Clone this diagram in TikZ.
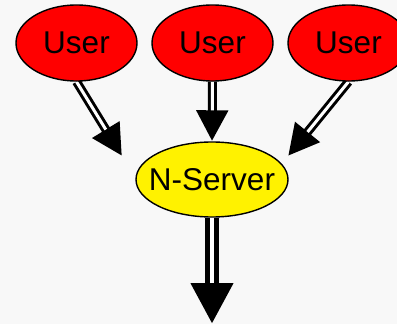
\documentclass[tikz,border=0pt]{standalone}
\usepackage{fontspec}
\setmainfont{Liberation Sans}
\usetikzlibrary{shapes.geometric,arrows.meta,backgrounds}
\definecolor{pagebg}{HTML}{F8F8F8}
\begin{document}
\begin{tikzpicture}[x=1pt,y=-1pt,
  user/.style={ellipse, draw=black, line width=1.4pt, fill=red,
    minimum width=121pt, minimum height=76pt, inner sep=0pt,
    font=\fontsize{31.5}{36}\selectfont},
  server/.style={user, fill=yellow, minimum width=152pt, minimum height=75pt,
    inner xsep=-12pt},
  shaft/.style={line width=9pt, -{Triangle[length=31pt,width=30pt]}},
  gap/.style={draw=white, line width=3pt, shorten >=31pt},
  bigshaft/.style={line width=14pt, -{Triangle[length=41pt,width=40pt]}},
  biggap/.style={draw=white, line width=4.5pt, shorten >=41pt}]
\useasboundingbox (0,0) rectangle (397,324);

% nodes
\node[user] (u1) at (76.5,43) {User};
\node[user] (u2) at (212.5,43) {User};
\node[user] (u3) at (348.5,43) {User};
\node[server] (srv) at (212,179.5) {N-Server};

\coordinate (t1) at (122,156);
\coordinate (t3) at (288,156);
\coordinate (out) at (212,324);

\begin{scope}[on background layer]
  \fill[pagebg] (0,0) rectangle (397,324);
  % double-lined connectors: black body with a white core
  \draw[shaft] (u1.south) -- (t1);
  \draw[gap] (u1.south) -- (t1);
  \draw[shaft] (u2.south) -- (srv.north);
  \draw[gap] (u2.south) -- (srv.north);
  \draw[shaft] (u3.south) -- (t3);
  \draw[gap] (u3.south) -- (t3);
  \draw[bigshaft] (srv.south) -- (out);
  \draw[biggap] (srv.south) -- (out);
\end{scope}
\end{tikzpicture}
\end{document}
